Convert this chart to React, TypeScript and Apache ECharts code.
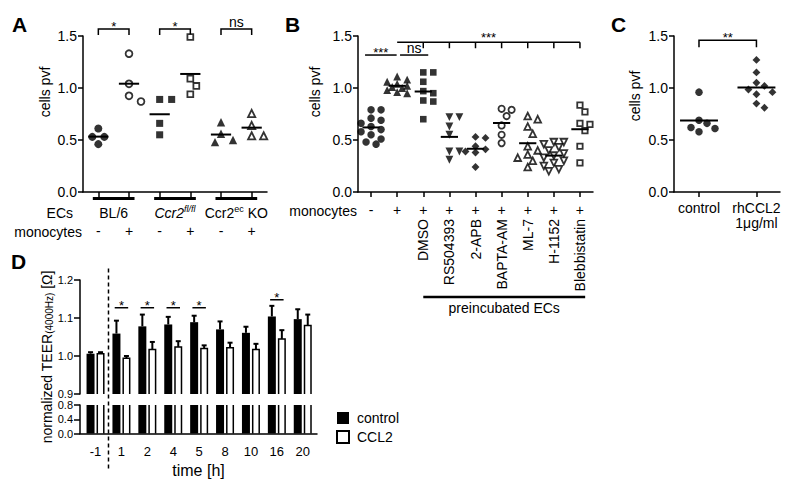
import { useEffect, useRef } from 'react';
import * as echarts from 'echarts';

const FONT = '"Liberation Sans", Arial, Helvetica, sans-serif';
const BLACK = '#000';

// ---------------- Panel A ----------------
const aMonocytes = ['-', '+', '-', '+', '-', '+'];
const aGroupLabels = ['{n|BL/6}', '{i|Ccr2}{si|fl/fl}', '{n|Ccr2}{s|ec}{n| KO}'];
const aBl6Minus = [0.61, 0.53, 0.53, 0.46];
const aBl6Plus = [1.33, 1.04, 0.925, 0.87];
const aFlMinus = [0.89, 0.89, 0.66, 0.55];
const aFlPlus = [1.49, 1.09, 1.02, 0.94];
const aKoMinus = [0.67, 0.56, 0.5, 0.48];
const aKoPlus = [0.755, 0.64, 0.54, 0.54];
const aSig = [
  { from: 1, to: 2, y: 1.567, label: '*' },
  { from: 3, to: 4, y: 1.567, label: '*' },
  { from: 5, to: 6, y: 1.567, label: 'ns' },
];

// ---------------- Panel B ----------------
const bMonocytes = ['-', '+', '+', '+', '+', '+', '+', '+', '+'];
const bTreatments = ['', '', 'DMSO', 'RS504393', '2-APB', 'BAPTA-AM', 'ML-7', 'H-1152', 'Blebbistatin'];
const bMinus = [0.79, 0.79, 0.71, 0.69, 0.66, 0.63, 0.6, 0.58, 0.55, 0.51, 0.48, 0.46];
const bPlus = [1.11, 1.08, 1.06, 1.04, 1.02, 1.01, 1.0, 0.98, 0.96, 0.95];
const bDMSO = [1.15, 1.15, 1.06, 0.97, 0.95, 0.88, 0.87, 0.7];
const bRS504393 = [0.72, 0.72, 0.63, 0.55, 0.39, 0.39, 0.31];
const b2APB = [0.53, 0.52, 0.44, 0.41, 0.39, 0.38, 0.24];
const bBAPTA = [0.8, 0.79, 0.73, 0.64, 0.55, 0.47];
const bML7 = [0.73, 0.7, 0.63, 0.56, 0.44, 0.4, 0.36, 0.33, 0.3, 0.24];
const bH1152 = [0.48, 0.48, 0.46, 0.43, 0.4, 0.37, 0.35, 0.33, 0.3, 0.28, 0.25, 0.22, 0.2];
const bBlebb = [0.835, 0.77, 0.66, 0.65, 0.59, 0.44, 0.28];
const bPairLines = [
  { from: 0.77, to: 1.98, y: 1.317, label: '***' },
  { from: 2.11, to: 3.19, y: 1.317, label: 'ns' },
];
const bBracket = { from: 2, to: 9, y: 1.44, ticks: [3, 4, 5, 6, 7, 8, 9], label: '***' };
const bPreincubated = { from: 3, to: 9.2, label: 'preincubated ECs' };

// ---------------- Panel C ----------------
const cCategories = ['control', 'rhCCL2\n1\u03bcg/ml'];
const cControl = [0.96, 0.69, 0.66, 0.62, 0.61, 0.58];
const cCCL2 = [1.27, 1.15, 1.05, 1.02, 0.985, 0.96, 0.94, 0.85, 0.81];
const cSig = { from: 1, to: 2, y: 1.46, label: '**' };

// ---------------- Panel D ----------------
const dTimes = ['-1', '1', '2', '4', '5', '8', '10', '16', '20'];
const dControl = [1.006, 1.059, 1.078, 1.083, 1.089, 1.07, 1.061, 1.104, 1.097];
const dControlErr = [0.004, 0.034, 0.031, 0.02, 0.017, 0.021, 0.016, 0.028, 0.026];
const dCCL2 = [1.006, 0.994, 1.017, 1.024, 1.02, 1.022, 1.017, 1.045, 1.08];
const dCCL2Err = [0.004, 0.006, 0.02, 0.015, 0.008, 0.013, 0.015, 0.023, 0.029];
const dSig = [
  { at: 2, y: 1.127 },
  { at: 3, y: 1.127 },
  { at: 4, y: 1.127 },
  { at: 5, y: 1.127 },
  { at: 8, y: 1.148 },
];

// ---------------- layout ----------------
const GA = { left: 83, top: 36, width: 184, height: 156 };
const GB = { left: 358, top: 36, width: 235, height: 156 };
const GC = { left: 674, top: 36, width: 106, height: 156 };
const GDU = { left: 80, top: 280, width: 237, height: 114 };
const GDL = { left: 80, top: 405, width: 237, height: 28.5 };
const AXR = [0.5, 6.5];
const BXR = [0.5, 9.5];
const CXR = [0.565, 2.41];
const DXR = [0.4, 9.55];

const mean = (a: number[]) => a.reduce((s, v) => s + v, 0) / a.length;

function swarm(values: number[], center: number, pxX: number, pxY: number, step: number, minDist: number, maxSteps: number) {
  const sorted = [...values].sort((a, b) => b - a);
  const placed: { ox: number; py: number }[] = [];
  const out: number[][] = [];
  for (const v of sorted) {
    const py = v * pxY;
    const cands = [0];
    for (let k = 1; k <= maxSteps; k++) cands.push(k, -k);
    let best = 0;
    let bestD = -1;
    for (const c of cands) {
      const ox = c * step;
      let dmin = Infinity;
      for (const p of placed) {
        const d = Math.hypot(p.ox - ox, p.py - py);
        if (d < dmin) dmin = d;
      }
      if (dmin >= minDist) {
        best = c;
        break;
      }
      if (dmin > bestD) {
        bestD = dmin;
        best = c;
      }
    }
    placed.push({ ox: best * step, py });
    out.push([center + (best * step) / pxX, v]);
  }
  return out;
}

type Mark = { symbol: string; hollow: boolean; rot?: number };

function scatterSeries(vals: number[], x: number, mark: Mark, axis: number, sw: any, size: number) {
  let s = size;
  if (mark.symbol === 'rect') s = size * 0.88;
  if (mark.symbol === 'diamond') s = size * 1.05;
  if (mark.symbol === 'triangle') s = size * 1.05;
  if (mark.hollow) s -= 1.2;
  return {
    type: 'scatter',
    xAxisIndex: sw.xAxis,
    yAxisIndex: axis,
    silent: true,
    data: swarm(vals, x, sw.pxX, sw.pxY, sw.step, sw.minDist, sw.maxSteps),
    symbol: mark.symbol,
    symbolRotate: mark.rot || 0,
    symbolSize: s,
    itemStyle: mark.hollow ? { color: '#fff', borderColor: BLACK, borderWidth: 1.8 } : { color: BLACK },
    z: 2,
  };
}

function meanSeries(groups: number[][], xAxisIndex: number, yAxisIndex: number) {
  return {
    type: 'custom',
    xAxisIndex,
    yAxisIndex,
    silent: true,
    z: 3,
    data: groups.map((g, i) => [i + 1, mean(g)]),
    renderItem: (_p: any, api: any) => {
      const x = api.value(0);
      const y = api.value(1);
      const a = api.coord([x - 0.33, y]);
      const b = api.coord([x + 0.33, y]);
      return { type: 'line', shape: { x1: a[0], y1: a[1], x2: b[0], y2: b[1] }, style: { stroke: BLACK, lineWidth: 2 } };
    },
  };
}

function txt(x: number, y: number, text: string, size = 14) {
  return {
    type: 'text',
    x,
    y,
    style: {
      text,
      fill: BLACK,
      font: `${size}px ${FONT}`,
      textAlign: 'center',
      textVerticalAlign: 'middle',
      align: 'center',
      verticalAlign: 'middle',
    },
  };
}

const starDy = (label: string) => (label.indexOf('*') >= 0 ? -2.5 : -7);

function bracketSeries(items: any[], xAxisIndex: number, yAxisIndex: number, drop: number) {
  return {
    type: 'custom',
    xAxisIndex,
    yAxisIndex,
    silent: true,
    data: items.map((s) => [s.from, s.y]),
    renderItem: (p: any, api: any) => {
      const s = items[p.dataIndex];
      const l = api.coord([s.from, s.y]);
      const r = api.coord([s.to, s.y]);
      const pts = drop > 0 ? [[l[0], l[1] + drop], [l[0], l[1]], [r[0], r[1]], [r[0], r[1] + drop]] : [[l[0], l[1]], [r[0], r[1]]];
      return {
        type: 'group',
        children: [
          { type: 'polyline', shape: { points: pts }, style: { stroke: BLACK, fill: 'none', lineWidth: 1.5 } },
          txt((l[0] + r[0]) / 2, l[1] + starDy(s.label), s.label, s.label === 'ns' ? 14 : 13),
        ],
      };
    },
  };
}

const lineStyle = { color: BLACK, width: 1.5 };
const labelBase = { color: BLACK, fontSize: 14, fontFamily: FONT };
const labelD = { color: BLACK, fontSize: 11, fontFamily: FONT };

function pvfYAxis(gridIndex: number) {
  return {
    type: 'value',
    gridIndex,
    min: 0,
    max: 1.5,
    interval: 0.5,
    axisLine: { show: true, lineStyle },
    axisTick: { show: true, length: 5, lineStyle },
    axisLabel: { ...labelBase, margin: 6, formatter: (v: number) => v.toFixed(1) },
    splitLine: { show: false },
  };
}

function buildOption() {
  const pxY = GA.height / 1.5;
  const swA = { xAxis: 0, pxX: GA.width / (AXR[1] - AXR[0]), pxY, step: 6, minDist: 9, maxSteps: 2 };
  const swB = { xAxis: 2, pxX: GB.width / (BXR[1] - BXR[0]), pxY, step: 5, minDist: 7.5, maxSteps: 2 };
  const swC = { xAxis: 4, pxX: GC.width / (CXR[1] - CXR[0]), pxY, step: 8, minDist: 8.5, maxSteps: 2 };

  const aData = [aBl6Minus, aBl6Plus, aFlMinus, aFlPlus, aKoMinus, aKoPlus];
  const aMarks: Mark[] = [
    { symbol: 'circle', hollow: false },
    { symbol: 'circle', hollow: true },
    { symbol: 'rect', hollow: false },
    { symbol: 'rect', hollow: true },
    { symbol: 'triangle', hollow: false },
    { symbol: 'triangle', hollow: true },
  ];
  const bData = [bMinus, bPlus, bDMSO, bRS504393, b2APB, bBAPTA, bML7, bH1152, bBlebb];
  const bMarks: Mark[] = [
    { symbol: 'circle', hollow: false },
    { symbol: 'triangle', hollow: false },
    { symbol: 'rect', hollow: false },
    { symbol: 'triangle', hollow: false, rot: 180 },
    { symbol: 'diamond', hollow: false },
    { symbol: 'circle', hollow: true },
    { symbol: 'triangle', hollow: true },
    { symbol: 'triangle', hollow: true, rot: 180 },
    { symbol: 'rect', hollow: true },
  ];
  const cData = [cControl, cCCL2];
  const cMarks: Mark[] = [
    { symbol: 'circle', hollow: false },
    { symbol: 'diamond', hollow: false },
  ];

  const seq = (n: number) => Array.from({ length: n }, (_, i) => i + 1);
  const richSup = {
    n: { fontSize: 14, fontFamily: FONT, color: BLACK, lineHeight: 18 },
    i: { fontSize: 14, fontFamily: FONT, color: BLACK, fontStyle: 'italic', lineHeight: 18 },
    si: { fontSize: 9, fontFamily: FONT, color: BLACK, fontStyle: 'italic', lineHeight: 10, verticalAlign: 'top' },
    s: { fontSize: 9, fontFamily: FONT, color: BLACK, lineHeight: 10, verticalAlign: 'top' },
  };
  const aGroupPos = aGroupLabels.map((_, i) => 2 * i + 1.5);

  const series: any[] = [];
  aData.forEach((g, i) => series.push(scatterSeries(g, i + 1, aMarks[i], 0, swA, 8)));
  series.push(meanSeries(aData, 0, 0));
  series.push(bracketSeries(aSig, 0, 0, 6));
  // group bars under axis A
  series.push({
    type: 'custom',
    xAxisIndex: 0,
    yAxisIndex: 0,
    silent: true,
    data: aGroupPos.map((x) => [x, 0]),
    renderItem: (_p: any, api: any) => {
      const x = api.value(0);
      const a = api.coord([x - 0.68, 0]);
      const b = api.coord([x + 0.68, 0]);
      return { type: 'line', shape: { x1: a[0], y1: a[1] + 6.5, x2: b[0], y2: b[1] + 6.5 }, style: { stroke: BLACK, lineWidth: 3 } };
    },
  });

  bData.forEach((g, i) => series.push(scatterSeries(g, i + 1, bMarks[i], 1, swB, 7.5)));
  series.push(meanSeries(bData, 2, 1));
  series.push(bracketSeries(bPairLines, 2, 1, 0));
  series.push({
    type: 'custom',
    xAxisIndex: 2,
    yAxisIndex: 1,
    silent: true,
    data: [[bBracket.from, bBracket.y]],
    renderItem: (_p: any, api: any) => {
      const l = api.coord([bBracket.from, bBracket.y]);
      const r = api.coord([bBracket.to, bBracket.y]);
      const children: any[] = [
        { type: 'line', shape: { x1: l[0], y1: l[1], x2: r[0], y2: r[1] }, style: { stroke: BLACK, lineWidth: 1.5 } },
      ];
      bBracket.ticks.forEach((t) => {
        const p = api.coord([t, bBracket.y]);
        children.push({ type: 'line', shape: { x1: p[0], y1: p[1], x2: p[0], y2: p[1] + 6 }, style: { stroke: BLACK, lineWidth: 1.5 } });
      });
      children.push(txt((l[0] + r[0]) / 2, l[1] - 4.5, bBracket.label, 13));
      return { type: 'group', children };
    },
  });
  series.push({
    type: 'custom',
    xAxisIndex: 2,
    yAxisIndex: 1,
    silent: true,
    data: [[bPreincubated.from, 0]],
    renderItem: (_p: any, api: any) => {
      const l = api.coord([bPreincubated.from, 0]);
      const r = api.coord([bPreincubated.to, 0]);
      return {
        type: 'group',
        children: [
          { type: 'line', shape: { x1: l[0], y1: l[1] + 105, x2: r[0], y2: r[1] + 105 }, style: { stroke: BLACK, lineWidth: 2.5 } },
          txt((l[0] + r[0]) / 2, l[1] + 116, bPreincubated.label, 14),
        ],
      };
    },
  });

  cData.forEach((g, i) => series.push(scatterSeries(g, i + 1, cMarks[i], 2, swC, 7.5)));
  series.push(meanSeries(cData, 4, 2));
  series.push(bracketSeries([cSig], 4, 2, 7));

  // Panel D bars
  const OFF = 5;
  const BW = 8;
  const errParts = (cx: number, y1: number, y2: number) => [
    { type: 'line', shape: { x1: cx, y1, x2: cx, y2 }, style: { stroke: BLACK, lineWidth: 2 } },
    { type: 'line', shape: { x1: cx - 2.5, y1: y2, x2: cx + 2.5, y2 }, style: { stroke: BLACK, lineWidth: 2 } },
  ];
  series.push({
    type: 'custom',
    name: 'control',
    xAxisIndex: 5,
    yAxisIndex: 3,
    silent: true,
    data: dControl.map((v, i) => [i + 1, v, dControlErr[i]]),
    renderItem: (_p: any, api: any) => {
      const x = api.value(0);
      const v = api.value(1);
      const e = api.value(2);
      const base = api.coord([x, 0.9]);
      const top = api.coord([x, v]);
      const et = api.coord([x, v + e]);
      const cx = base[0] - OFF;
      return {
        type: 'group',
        children: [
          { type: 'rect', shape: { x: cx - BW / 2, y: top[1], width: BW, height: base[1] - top[1] }, style: { fill: BLACK } },
          ...errParts(cx, top[1], et[1]),
        ],
      };
    },
  });
  series.push({
    type: 'custom',
    name: 'CCL2',
    xAxisIndex: 5,
    yAxisIndex: 3,
    silent: true,
    data: dCCL2.map((v, i) => [i + 1, v, dCCL2Err[i]]),
    renderItem: (_p: any, api: any) => {
      const x = api.value(0);
      const v = api.value(1);
      const e = api.value(2);
      const base = api.coord([x, 0.9]);
      const top = api.coord([x, v]);
      const et = api.coord([x, v + e]);
      const cx = base[0] + OFF;
      const l = cx - BW / 2 + 0.75;
      const r = cx + BW / 2 - 0.75;
      return {
        type: 'group',
        children: [
          ...errParts(cx, top[1], et[1]),
          {
            type: 'polyline',
            shape: { points: [[l, base[1]], [l, top[1]], [r, top[1]], [r, base[1]]] },
            style: { stroke: BLACK, fill: 'none', lineWidth: 1.5 },
          },
        ],
      };
    },
  });
  series.push({
    type: 'custom',
    name: 'control',
    xAxisIndex: 6,
    yAxisIndex: 4,
    silent: true,
    data: dControl.map((v, i) => [i + 1, Math.min(v, 0.8)]),
    renderItem: (_p: any, api: any) => {
      const x = api.value(0);
      const base = api.coord([x, 0]);
      const top = api.coord([x, api.value(1)]);
      const cx = base[0] - OFF;
      return { type: 'rect', shape: { x: cx - BW / 2, y: top[1], width: BW, height: base[1] - top[1] }, style: { fill: BLACK } };
    },
  });
  series.push({
    type: 'custom',
    name: 'CCL2',
    xAxisIndex: 6,
    yAxisIndex: 4,
    silent: true,
    data: dCCL2.map((v, i) => [i + 1, Math.min(v, 0.8)]),
    renderItem: (_p: any, api: any) => {
      const x = api.value(0);
      const base = api.coord([x, 0]);
      const top = api.coord([x, api.value(1)]);
      const cx = base[0] + OFF;
      const l = cx - BW / 2 + 0.75;
      const r = cx + BW / 2 - 0.75;
      return {
        type: 'group',
        children: [
          { type: 'line', shape: { x1: l, y1: base[1], x2: l, y2: top[1] }, style: { stroke: BLACK, lineWidth: 1.5 } },
          { type: 'line', shape: { x1: r, y1: base[1], x2: r, y2: top[1] }, style: { stroke: BLACK, lineWidth: 1.5 } },
        ],
      };
    },
  });
  series.push({
    type: 'custom',
    xAxisIndex: 5,
    yAxisIndex: 3,
    silent: true,
    data: dSig.map((s) => [s.at, s.y]),
    renderItem: (_p: any, api: any) => {
      const x = api.value(0);
      const y = api.value(1);
      const a = api.coord([x - 0.26, y]);
      const b = api.coord([x + 0.26, y]);
      return {
        type: 'group',
        children: [
          { type: 'line', shape: { x1: a[0], y1: a[1], x2: b[0], y2: b[1] }, style: { stroke: BLACK, lineWidth: 1.5 } },
          txt((a[0] + b[0]) / 2, a[1] - 2.5, '*', 13),
        ],
      };
    },
  });
  // dashed separator between baseline and treatment
  series.push({
    type: 'custom',
    xAxisIndex: 6,
    yAxisIndex: 4,
    silent: true,
    data: [[1.5, 0]],
    renderItem: (_p: any, api: any) => {
      const p = api.coord([api.value(0), 0]);
      return {
        type: 'line',
        shape: { x1: p[0], y1: p[1] + 35, x2: p[0], y2: p[1] - 167 },
        style: { stroke: BLACK, lineWidth: 1.5, lineDash: [4, 3] },
      };
    },
  });

  const hiddenX = (gridIndex: number, range: number[]) => ({
    type: 'value',
    gridIndex,
    min: range[0],
    max: range[1],
    show: false,
    splitLine: { show: false },
  });

  return {
    animation: false,
    backgroundColor: '#fff',
    textStyle: { fontFamily: FONT },
    grid: [GA, GB, GC, GDU, GDL].map((g) => ({ ...g, containLabel: false })),
    legend: {
      orient: 'vertical',
      left: 331,
      top: 406,
      itemWidth: 12,
      itemHeight: 12,
      itemGap: 5,
      selectedMode: false,
      textStyle: { fontSize: 14, fontFamily: FONT, color: BLACK, padding: [0, 0, 0, 3] },
      data: [
        { name: 'control', icon: 'rect', itemStyle: { color: BLACK } },
        { name: 'CCL2', icon: 'rect', itemStyle: { color: '#fff', borderColor: BLACK, borderWidth: 2 } },
      ],
    },
    xAxis: [
      {
        type: 'value',
        gridIndex: 0,
        min: AXR[0],
        max: AXR[1],
        axisLine: { show: true, onZero: false, lineStyle },
        axisTick: { show: true, length: 5, customValues: seq(6), lineStyle },
        axisLabel: { ...labelBase, customValues: seq(6), margin: 32, formatter: (v: number) => aMonocytes[Math.round(v) - 1] ?? '' },
        splitLine: { show: false },
      },
      {
        type: 'value',
        gridIndex: 0,
        position: 'bottom',
        min: AXR[0],
        max: AXR[1],
        axisLine: { show: false },
        axisTick: { show: false },
        splitLine: { show: false },
        axisLabel: {
          ...labelBase,
          customValues: aGroupPos,
          margin: 12,
          rich: richSup,
          formatter: (v: number) => aGroupLabels[Math.round((v - 1.5) / 2)] ?? '',
        },
      },
      {
        type: 'value',
        gridIndex: 1,
        min: BXR[0],
        max: BXR[1],
        axisLine: { show: true, onZero: false, lineStyle },
        axisTick: { show: true, length: 5, customValues: seq(9), lineStyle },
        axisLabel: { ...labelBase, customValues: seq(9), margin: 11, formatter: (v: number) => bMonocytes[Math.round(v) - 1] ?? '' },
        splitLine: { show: false },
      },
      {
        type: 'value',
        gridIndex: 1,
        position: 'bottom',
        min: BXR[0],
        max: BXR[1],
        axisLine: { show: false },
        axisTick: { show: false },
        splitLine: { show: false },
        axisLabel: {
          ...labelBase,
          customValues: [3, 4, 5, 6, 7, 8, 9],
          rotate: 90,
          margin: 27,
          formatter: (v: number) => bTreatments[Math.round(v) - 1] ?? '',
        },
      },
      {
        type: 'value',
        gridIndex: 2,
        min: CXR[0],
        max: CXR[1],
        axisLine: { show: true, onZero: false, lineStyle },
        axisTick: { show: true, length: 5, customValues: [1, 2], lineStyle },
        axisLabel: { ...labelBase, customValues: [1, 2], margin: 8, lineHeight: 15, formatter: (v: number) => cCategories[Math.round(v) - 1] ?? '' },
        splitLine: { show: false },
      },
      hiddenX(3, DXR),
      {
        type: 'value',
        gridIndex: 4,
        min: DXR[0],
        max: DXR[1],
        axisLine: { show: true, onZero: false, lineStyle },
        axisTick: { show: false },
        axisLabel: { ...labelD, fontSize: 13, customValues: seq(9), margin: 11, formatter: (v: number) => dTimes[Math.round(v) - 1] ?? '' },
        splitLine: { show: false },
        name: 'time [h]',
        nameLocation: 'middle',
        nameGap: 29,
        nameTextStyle: { ...labelBase, fontSize: 16 },
      },
    ],
    yAxis: [
      pvfYAxis(0),
      pvfYAxis(1),
      pvfYAxis(2),
      {
        type: 'value',
        gridIndex: 3,
        min: 0.9,
        max: 1.2,
        interval: 0.1,
        axisLine: { show: true, onZero: false, lineStyle },
        axisTick: { show: true, length: 6, lineStyle },
        axisLabel: { ...labelD, margin: 7, lineHeight: 10, padding: [0, 0, 2, 0], formatter: (v: number) => v.toFixed(1) },
        splitLine: { show: false },
      },
      {
        type: 'value',
        gridIndex: 4,
        min: 0,
        max: 0.8,
        interval: 0.4,
        axisLine: { show: true, onZero: false, lineStyle },
        axisTick: { show: true, length: 6, lineStyle },
        axisLabel: { ...labelD, margin: 7, lineHeight: 10, padding: [2, 0, 0, 0], formatter: (v: number) => v.toFixed(1) },
        splitLine: { show: false },
      },
    ],
    graphic: [
      { type: 'text', x: 12, y: 14, style: { text: 'A', font: `bold 21px ${FONT}`, fill: BLACK } },
      { type: 'text', x: 285, y: 14, style: { text: 'B', font: `bold 21px ${FONT}`, fill: BLACK } },
      { type: 'text', x: 611, y: 14, style: { text: 'C', font: `bold 21px ${FONT}`, fill: BLACK } },
      { type: 'text', x: 11, y: 251, style: { text: 'D', font: `bold 21px ${FONT}`, fill: BLACK } },
      ...[
        [45, 92],
        [315, 92],
        [635, 96],
      ].map(([x, y]) => ({
        type: 'text',
        x,
        y,
        rotation: Math.PI / 2,
        style: { text: 'cells pvf', font: `14px ${FONT}`, fill: BLACK, textAlign: 'center', textVerticalAlign: 'middle' },
      })),
      { type: 'text', x: 73, y: 213, style: { text: 'ECs', font: `14px ${FONT}`, fill: BLACK, textAlign: 'right', textVerticalAlign: 'middle' } },
      { type: 'text', x: 82, y: 232, style: { text: 'monocytes', font: `14px ${FONT}`, fill: BLACK, textAlign: 'right', textVerticalAlign: 'middle' } },
      { type: 'text', x: 357, y: 211, style: { text: 'monocytes', font: `14px ${FONT}`, fill: BLACK, textAlign: 'right', textVerticalAlign: 'middle' } },
      {
        type: 'text',
        x: 45,
        y: 357,
        rotation: Math.PI / 2,
        style: {
          text: '{a|normalized TEER}{s|(4000Hz)}{a| [\u03a9]}',
          rich: {
            a: { fontSize: 14, fontFamily: FONT, fill: BLACK, lineHeight: 18, verticalAlign: 'bottom' },
            s: { fontSize: 10, fontFamily: FONT, fill: BLACK, lineHeight: 10, verticalAlign: 'bottom' },
          },
          fill: BLACK,
          textAlign: 'center',
          textVerticalAlign: 'middle',
        },
      },
    ],
    series,
  };
}

export default function App() {
  const ref = useRef<HTMLDivElement>(null);
  useEffect(() => {
    document.body.style.margin = '0';
    const chart = echarts.init(ref.current!, null, { renderer: 'svg' });
    chart.setOption(buildOption() as any);
    return () => chart.dispose();
  }, []);
  return <div ref={ref} style={{ width: 800, height: 491, background: '#fff' }} />;
}
